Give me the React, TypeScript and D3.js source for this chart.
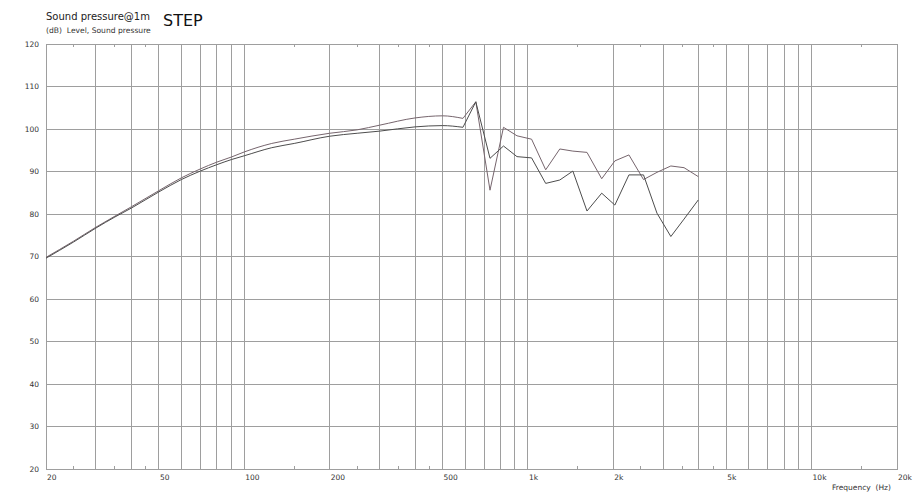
import React from "react";
import * as d3 from "d3";

// frequency points (Hz)
const freqs = [
  20, 25, 30, 35, 40, 50, 60, 70, 80, 90, 100, 125, 150, 200, 250, 300, 400,
  500, 590, 655, 735, 820, 915, 1030, 1155, 1295, 1440, 1615, 1820, 2025, 2270,
  2555, 2850, 3190, 3550, 3985,
];

const upperDb = [
  69.8, 73.6, 76.9, 79.5, 81.7, 85.5, 88.5, 90.6, 92.2, 93.4, 94.6, 96.6, 97.6,
  99.0, 99.8, 100.9, 102.6, 103.1, 102.5, 106.4, 85.6, 100.4, 98.4, 97.6, 90.4,
  95.3, 94.8, 94.5, 88.3, 92.5, 93.9, 88.1, 89.8, 91.3, 90.9, 88.8,
];

const lowerDb = [
  69.6, 73.4, 76.7, 79.3, 81.4, 85.2, 88.1, 90.1, 91.6, 92.8, 93.7, 95.6, 96.6,
  98.3, 99.0, 99.5, 100.5, 100.8, 100.4, 106.4, 93.1, 96.0, 93.5, 93.2, 87.2,
  88.0, 90.1, 80.7, 84.9, 82.1, 89.2, 89.2, 80.2, 74.7, 78.8, 83.3,
];

// the response is smooth up to this point, a plain polyline after it
const smoothEnd = 18;

const yTicks = [20, 30, 40, 50, 60, 70, 80, 90, 100, 110, 120];
const xLabels: [number, string][] = [
  [20, "20"],
  [50, "50"],
  [100, "100"],
  [200, "200"],
  [500, "500"],
  [1000, "1k"],
  [2000, "2k"],
  [5000, "5k"],
  [10000, "10k"],
  [20000, "20k"],
];
const gridFreqs = [
  30, 40, 50, 60, 70, 80, 90, 100, 200, 300, 400, 500, 600, 700, 800, 900,
  1000, 2000, 3000, 4000, 5000, 6000, 7000, 8000, 9000, 10000,
];
const minorFreqs = [25, 35, 45, 150, 250, 350, 450, 1500, 2500, 3500, 4500, 15000];

const font = "'DejaVu Sans', Verdana, sans-serif";

export default function App() {
  const left = 46;
  const right = 897;
  const top = 44;
  const bottom = 469;

  const x = d3.scaleLog().domain([20, 20000]).range([left, right]);
  const y = d3.scaleLinear().domain([20, 120]).range([bottom, top]);

  const pts = (vals: number[]) => vals.map((v, i) => [freqs[i], v] as [number, number]);

  const smooth = d3
    .line<[number, number]>()
    .x((d) => x(d[0]))
    .y((d) => y(d[1]))
    .curve(d3.curveMonotoneX);

  const straight = d3
    .line<[number, number]>()
    .x((d) => x(d[0]))
    .y((d) => y(d[1]));

  const curvePath = (vals: number[]) => {
    const p = pts(vals);
    return (smooth(p.slice(0, smoothEnd + 1)) ?? "") + (straight(p.slice(smoothEnd)) ?? "");
  };

  return (
    <svg
      width={914}
      height={495}
      style={{ position: "absolute", left: 0, top: 0, background: "#fff" }}
      fontFamily={font}
    >
      <rect x={0} y={0} width={914} height={495} fill="#fff" />

      {/* grid */}
      <g stroke="#9e9e9e" strokeWidth={1} shapeRendering="crispEdges">
        {yTicks.map((t) => (
          <line key={"h" + t} x1={left} x2={right} y1={y(t)} y2={y(t)} />
        ))}
        {gridFreqs.map((f) => (
          <line key={"v" + f} x1={x(f)} x2={x(f)} y1={top} y2={bottom} />
        ))}
        <rect x={left} y={top} width={right - left} height={bottom - top} fill="none" />
        {minorFreqs.map((f) => (
          <g key={"m" + f}>
            <line x1={x(f)} x2={x(f)} y1={bottom} y2={bottom - 3} />
            <line x1={x(f)} x2={x(f)} y1={top} y2={top + 3} />
          </g>
        ))}
      </g>

      {/* curves */}
      <path d={curvePath(upperDb)} fill="none" stroke="#76656d" strokeWidth={1} />
      <path d={curvePath(lowerDb)} fill="none" stroke="#4d4d4d" strokeWidth={1} />

      {/* y labels */}
      <g fontSize={7.5} fill="#333" textAnchor="end">
        {yTicks.map((t) => (
          <text key={"yl" + t} x={39} y={y(t)} dy="0.35em">
            {t}
          </text>
        ))}
      </g>

      {/* x labels */}
      <g fontSize={7.5} fill="#333">
        {xLabels.map(([f, s]) => (
          <text key={"xl" + f} x={x(f) + 1} y={480}>
            {s}
          </text>
        ))}
      </g>

      <text x={832} y={490} fontSize={7.5} fill="#333" style={{ whiteSpace: "pre" }}>
        {"Frequency  (Hz)"}
      </text>

      {/* titles */}
      <text x={46} y={20} fontSize={10} fill="#222">
        Sound pressure@1m
      </text>
      <text x={163} y={26} fontSize={16} fill="#111">
        STEP
      </text>
      <text x={46} y={33} fontSize={7.6} fill="#333" style={{ whiteSpace: "pre" }}>
        {"(dB)  Level, Sound pressure"}
      </text>
    </svg>
  );
}
